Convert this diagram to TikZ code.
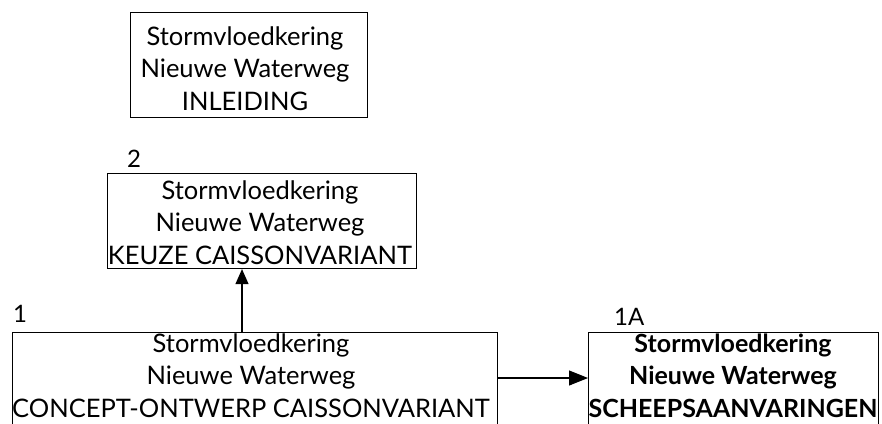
\documentclass[tikz,border=0pt]{standalone}
\usepackage{fontspec}
\setmainfont{Lato}
\usetikzlibrary{arrows.meta}
\begin{document}
\begin{tikzpicture}[x=1pt,y=-1pt,
  box/.style={draw, line width=1.1pt, inner sep=0pt, anchor=north west},
  txt/.style={align=center, font=\fontsize{25.5}{32.5}\selectfont, inner sep=0pt, anchor=base},
  num/.style={font=\fontsize{24}{28}\selectfont, inner sep=0pt, anchor=base west},
  link/.style={line width=1.1pt, -{Triangle[length=15pt,width=13pt]}},
  linkh/.style={line width=1.1pt, -{Triangle[length=19pt,width=15pt]}}]
\useasboundingbox (0,0) rectangle (882,423);
\clip (0,0) rectangle (882,423);

% boxes
\node[box, minimum width=237pt, minimum height=105pt] (intro) at (130,12) {};
\node[box, minimum width=309pt, minimum height=95pt] (keuze) at (107,173) {};
\node[box, minimum width=485pt, minimum height=130pt] (concept) at (12,332) {};
\node[box, minimum width=290pt, minimum height=130pt] (ship) at (588,332) {};

% box texts (anchored on the baseline of the last line)
\node[txt] (introT) at (245,110) {Stormvloedkering\\Nieuwe Waterweg\\INLEIDING};
\node[txt] (keuzeT) at (260,264) {Stormvloedkering\\Nieuwe Waterweg\\KEUZE CAISSONVARIANT};
\node[txt] (conceptT) at (251,417) {Stormvloedkering\\Nieuwe Waterweg\\CONCEPT-ONTWERP CAISSONVARIANT};
\node[txt, font=\fontsize{25}{32.5}\selectfont\bfseries] (shipT) at (733,417) {Stormvloedkering\\Nieuwe Waterweg\\SCHEEPSAANVARINGEN};

% numbers
\node[num] (n2) at (127,167) {2};
\node[num] (n1) at (13,322) {1};
\node[num] (n1a) at (614,325) {1A};

% connectors
\coordinate (xa) at (242,300);
\coordinate (ya) at (540,378);
\draw[link] (concept.north -| xa) -- (keuze.south -| xa);
\draw[linkh] (concept.east |- ya) -- (ship.west |- ya);
\end{tikzpicture}
\end{document}
